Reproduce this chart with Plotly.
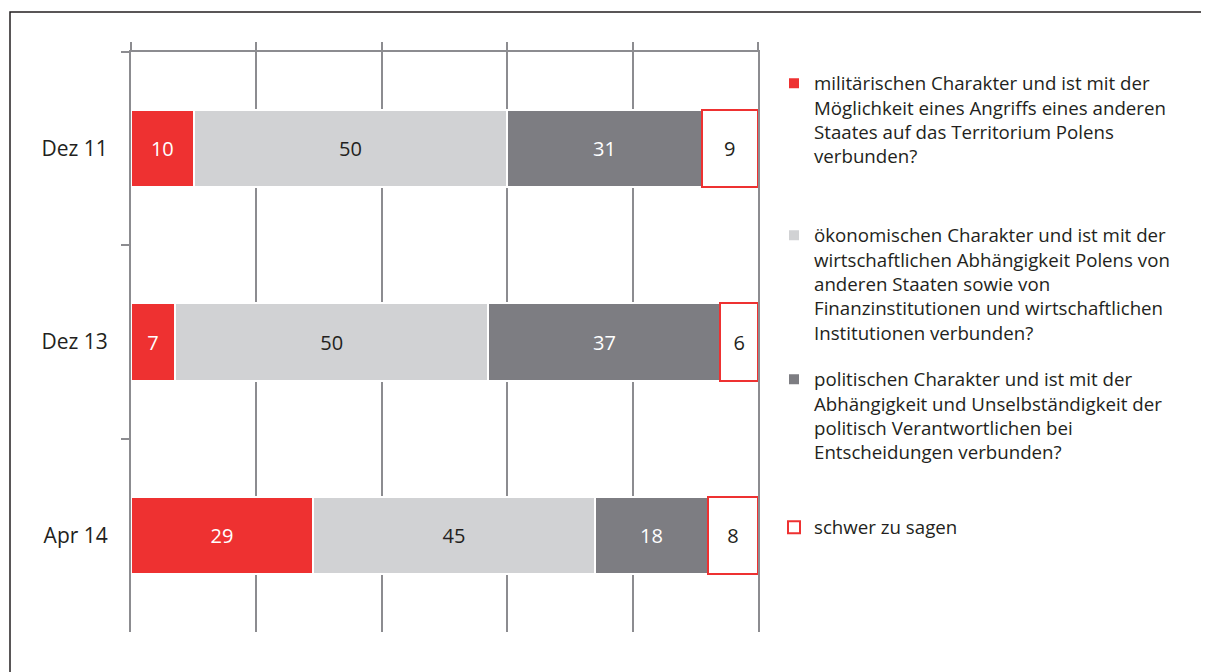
import plotly.graph_objects as go

categories = ["Dez 11", "Dez 13", "Apr 14"]
militaer = [10, 7, 29]
oekonom = [50, 50, 45]
politisch = [31, 37, 18]
schwer = [9, 6, 8]

names = [
    "militärischen Charakter und ist mit der<br>Möglichkeit eines Angriffs eines anderen<br>Staates auf das Territorium Polens<br>verbunden?",
    "ökonomischen Charakter und ist mit der<br>wirtschaftlichen Abhängigkeit Polens von<br>anderen Staaten sowie von<br>Finanzinstitutionen und wirtschaftlichen<br>Institutionen verbunden?",
    "politischen Charakter und ist mit der<br>Abhängigkeit und Unselbständigkeit der<br>politisch Verantwortlichen bei<br>Entscheidungen verbunden?",
    "schwer zu sagen",
]

RED = "#EE3131"
LGREY = "#D1D2D4"
DGREY = "#7D7D82"
TXT = "#231F20"
GRID = "#8C8C90"
FONT = "Open Sans"

series = [
    (militaer, names[0], RED, "white", "white", "legend"),
    (oekonom, names[1], LGREY, "white", TXT, "legend2"),
    (politisch, names[2], DGREY, "white", "white", "legend3"),
    (schwer, names[3], "white", RED, TXT, "legend4"),
]

fig = go.Figure()
for vals, name, fill, line, tcol, leg in series:
    fig.add_trace(go.Bar(
        y=categories, x=vals, orientation="h", name=name,
        marker=dict(color=fill, line=dict(color=line, width=2)),
        width=0.4,
        text=vals, texttemplate="%{text}", textposition="inside",
        insidetextanchor="middle", textangle=0,
        textfont=dict(family=FONT, size=20, color=tcol),
        legend=leg, hoverinfo="skip",
    ))

# page body has an 8px margin: figure coordinates = screen coordinates - 8
OFF = 8
W, H = 1209 - OFF, 672 - OFF
L = 131 - OFF
T = 52 - OFF
R = W - (758 - OFF)
B = H - (632 - OFF)
pw, ph = W - L - R, H - T - B

def px_x(x):
    return (x - OFF - L) / pw

def px_y(y):
    return (H - B - (y - OFF)) / ph

leg_common = dict(font=dict(family=FONT, size=18.7, color=TXT), bgcolor="rgba(0,0,0,0)",
                  xanchor="left", yanchor="top", valign="top", itemwidth=30,
                  itemclick=False, itemdoubleclick=False)
lx = px_x(774)
fig.update_layout(
    width=W, height=H,
    margin=dict(l=L, r=R, t=T, b=B),
    paper_bgcolor="white", plot_bgcolor="white",
    barmode="stack", showlegend=True,
    font=dict(family=FONT, size=20, color=TXT),
    legend=dict(x=lx, y=px_y(64.5), **leg_common),
    legend2=dict(x=lx, y=px_y(216.5), **leg_common),
    legend3=dict(x=lx, y=px_y(360.5), **leg_common),
    legend4=dict(x=lx, y=px_y(508.5), **leg_common),
    xaxis=dict(range=[0, 100], dtick=20, side="top", showticklabels=False,
               showgrid=True, gridcolor=GRID, gridwidth=2, zeroline=False,
               showline=True, linecolor=GRID, linewidth=2,
               ticks="outside", ticklen=8, tickwidth=2, tickcolor=GRID),
    yaxis=dict(type="category", categoryorder="array", categoryarray=categories,
               autorange="reversed", tickson="boundaries",
               ticks="outside", ticklen=8, tickwidth=2, tickcolor=GRID,
               showline=True, linecolor=GRID, linewidth=2, showgrid=False,
               mirror=True, ticklabelstandoff=17,
               tickfont=dict(family=FONT, size=21, color=TXT)),
    shapes=[dict(type="rect", xref="paper", yref="paper",
                 x0=px_x(10), x1=px_x(1207.5), y0=px_y(700), y1=px_y(12),
                 line=dict(color=TXT, width=1.5), fillcolor="rgba(0,0,0,0)", layer="below")],
)

fig.write_html("out.html")
